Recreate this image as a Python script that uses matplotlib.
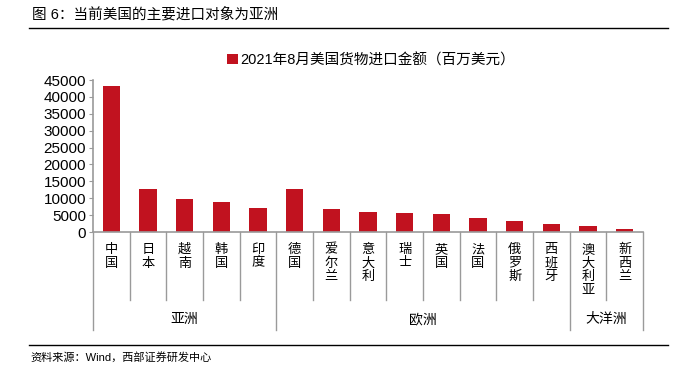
import matplotlib
matplotlib.use("Agg")
import matplotlib.pyplot as plt
from matplotlib.lines import Line2D

plt.rcParams['font.family'] = ['Liberation Sans', 'Noto Sans CJK SC']

# data
countries = ["中国", "日本", "越南", "韩国", "印度",
             "德国", "爱尔兰", "意大利", "瑞士", "英国", "法国", "俄罗斯", "西班牙",
             "澳大利亚", "新西兰"]
imports = [43300, 12700, 9800, 8900, 7100,
           12600, 6800, 5900, 5700, 5200, 4200, 3200, 2300,
           1700, 900]
groups = ["亚洲", "欧洲", "大洋洲"]
group_sizes = [5, 8, 2]
yticks = [0, 5000, 10000, 15000, 20000, 25000, 30000, 35000, 40000, 45000]
series_name = "2021年8月美国货物进口金额（百万美元）"
title = "图 6：当前美国的主要进口对象为亚洲"
source = "资料来源：Wind，西部证券研发中心"

W, H = 680, 369
fig = plt.figure(figsize=(W / 100, H / 100), dpi=100)
x0, x1, y_top, y_zero = 93, 643, 80, 232
ax = fig.add_axes([x0 / W, 1 - y_zero / H, (x1 - x0) / W, (y_zero - y_top) / H])

red = "#C1121F"
grey = "#9a9a9a"
xs = list(range(len(countries)))
ax.bar(xs, imports, width=0.47, color=red, label=series_name, zorder=2)

ax.set_xlim(-0.5, len(countries) - 0.5)
ax.set_ylim(0, 45000)
ax.set_yticks(yticks)
ax.set_yticklabels([str(v) for v in yticks], fontsize=11)
ax.set_xticks([])
for s in ["top", "right"]:
    ax.spines[s].set_visible(False)
for s in ["left", "bottom"]:
    ax.spines[s].set_color(grey)
    ax.spines[s].set_linewidth(1.2)
ax.tick_params(axis="y", length=3, color=grey, pad=2)

# category labels, stacked vertically
ph = y_zero - y_top
tr = ax.get_xaxis_transform()
for x, name in zip(xs, countries):
    ax.text(x, -11 / ph, "\n".join(name), transform=tr, ha="center", va="top",
            fontsize=9.5, linespacing=1.05, family=['Noto Sans CJK SC'])

# separators between categories and groups
bounds = [0]
for n in group_sizes:
    bounds.append(bounds[-1] + n)
for i in range(len(countries) + 1):
    low = 330 if i in bounds else 300
    ax.add_line(Line2D([i - 0.5, i - 0.5], [0, -(low - y_zero) / ph], transform=tr,
                       color=grey, lw=1.0, clip_on=False))
for g, a, b in zip(groups, bounds[:-1], bounds[1:]):
    ax.text((a + b) / 2 - 0.5, -(319 - y_zero) / ph, g, transform=tr,
            ha="center", va="center", fontsize=10, family=['Noto Sans CJK SC'])

fig.legend(loc="center", bbox_to_anchor=(371 / W, 1 - 60 / H), frameon=False,
           fontsize=10.5, handlelength=0.75, handleheight=0.75, handletextpad=0.15,
           borderpad=0)

fig.text(32 / W, 1 - 14 / H, title, ha="left", va="center", fontsize=10.5)
fig.add_artist(Line2D([29 / W, 668 / W], [1 - 28 / H, 1 - 28 / H], color="black", lw=1.0))
fig.add_artist(Line2D([29 / W, 668 / W], [1 - 345 / H, 1 - 345 / H], color="black", lw=1.0))
fig.text(30 / W, 1 - 357 / H, source, ha="left", va="center", fontsize=8)

fig.savefig("out.png", dpi=100)
